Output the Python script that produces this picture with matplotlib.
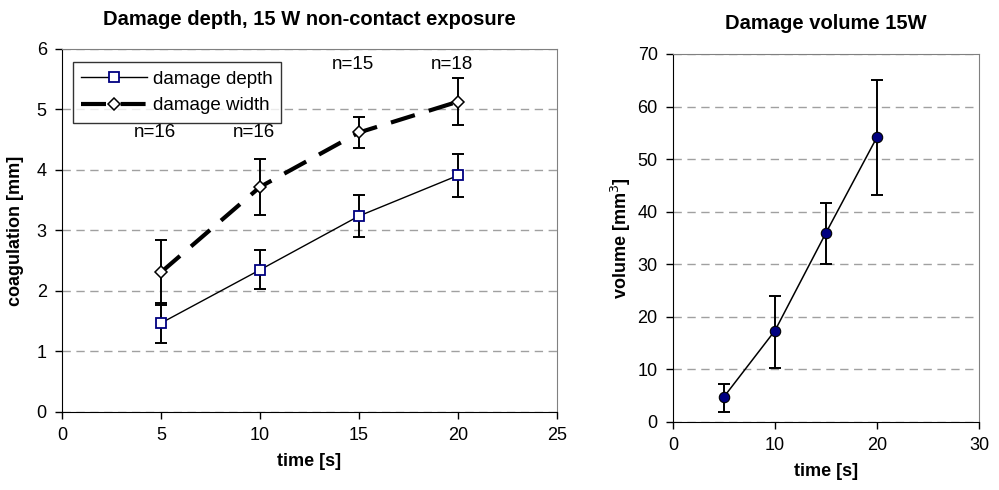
import matplotlib
matplotlib.use('Agg')
import matplotlib.pyplot as plt

plt.rcParams['font.family'] = ['Liberation Sans', 'DejaVu Sans']

# left chart: damage depth / width
time_s = [5, 10, 15, 20]
depth_mm = [1.47, 2.35, 3.24, 3.91]
depth_err = [0.33, 0.32, 0.35, 0.36]
width_mm = [2.31, 3.72, 4.62, 5.13]
width_err = [0.54, 0.47, 0.25, 0.39]
n_labels = ['n=16', 'n=16', 'n=15', 'n=18']
n_label_y = [4.62, 4.62, 5.74, 5.74]

# right chart: damage volume
vol_mm3 = [4.8, 17.4, 36.0, 54.2]
vol_err_low = [2.9, 7.1, 5.9, 11.1]
vol_err_high = [2.5, 6.6, 5.7, 10.8]

fig = plt.figure(figsize=(9.99, 4.9), dpi=100)

def style_axes(ax):
    ax.spines['top'].set_color('#808080')
    ax.spines['right'].set_color('#808080')
    ax.spines['left'].set_color('black')
    ax.spines['bottom'].set_color('black')
    ax.tick_params(direction='out', length=5, width=1, labelsize=13, pad=6,
                   top=False, right=False)
    ax.yaxis.grid(True, linestyle=(0, (6, 4)), color='#a0a0a0', linewidth=1)
    ax.set_axisbelow(True)

err_kw = dict(fmt='none', ecolor='black', elinewidth=1.4, capsize=4.5, capthick=1.4)

ax1 = fig.add_axes([0.0621, 0.1592, 0.4955, 0.7408])
style_axes(ax1)
ax1.errorbar(time_s, depth_mm, yerr=depth_err, zorder=3, **err_kw)
ax1.errorbar(time_s, width_mm, yerr=width_err, zorder=3, **err_kw)
ax1.plot(time_s, depth_mm, color='black', linewidth=1,
         marker='s', markersize=7, markerfacecolor='white',
         markeredgecolor='#000080', markeredgewidth=1.3,
         label='damage depth', zorder=4)
ax1.plot(time_s, width_mm, color='black', linewidth=3,
         linestyle=(0, (6, 3.5)), marker='D', markersize=6,
         markerfacecolor='white', markeredgecolor='black',
         markeredgewidth=1.1, label='damage width', zorder=4)
for x, y, t in zip(time_s, n_label_y, n_labels):
    ax1.text(x - 0.3, y, t, ha='center', va='center', fontsize=13.5)
ax1.set_xlim(0, 25)
ax1.set_ylim(0, 6)
ax1.set_xticks([0, 5, 10, 15, 20, 25])
ax1.set_yticks([0, 1, 2, 3, 4, 5, 6])
ax1.set_xlabel('time [s]', fontsize=13, fontweight='bold', labelpad=6)
ax1.set_ylabel('coagulation [mm]', fontsize=13, fontweight='bold', labelpad=9)
ax1.set_title('Damage depth, 15 W non-contact exposure', fontsize=14.5,
              fontweight='bold', pad=17)
leg = ax1.legend(loc='upper left', bbox_to_anchor=(0.022, 0.964), fontsize=13.5,
                 frameon=True, fancybox=False, edgecolor='black',
                 handlelength=3.5, borderpad=0.45, labelspacing=0.5,
                 handletextpad=0.3, borderaxespad=0)
leg.get_frame().set_linewidth(1)

ax2 = fig.add_axes([0.6737, 0.1388, 0.3063, 0.751])
style_axes(ax2)
ax2.errorbar(time_s, vol_mm3, yerr=[vol_err_low, vol_err_high], zorder=3, **err_kw)
ax2.plot(time_s, vol_mm3, color='black', linewidth=1.1, marker='o',
         markersize=7.5, markerfacecolor='#000080', markeredgecolor='black',
         markeredgewidth=0.8, zorder=4)
ax2.set_xlim(0, 30)
ax2.set_ylim(0, 70)
ax2.set_xticks([0, 10, 20, 30])
ax2.set_yticks(range(0, 71, 10))
ax2.set_xlabel('time [s]', fontsize=13, fontweight='bold', labelpad=6)
ax2.set_ylabel('volume [mm$^3$]', fontsize=13, fontweight='bold', labelpad=3)
ax2.set_title('Damage volume 15W', fontsize=14.5, fontweight='bold', pad=18)

fig.savefig('out.png', dpi=100)
